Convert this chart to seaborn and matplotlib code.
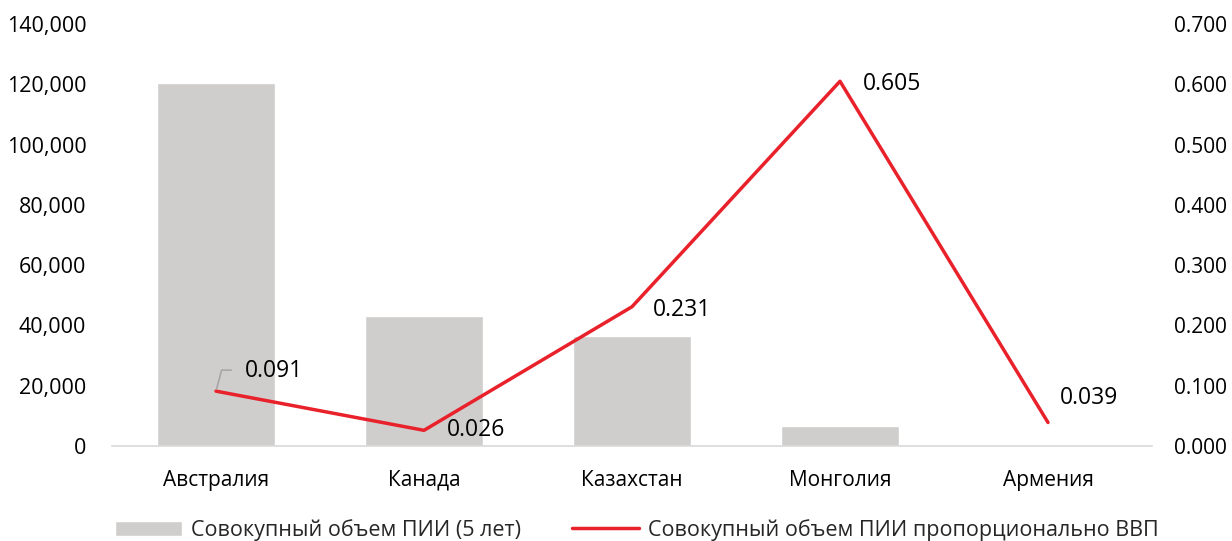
import matplotlib
matplotlib.use("Agg")
import matplotlib.pyplot as plt
import seaborn as sns
import pandas as pd
from matplotlib.ticker import FuncFormatter

categories = ["Австралия", "Канада", "Казахстан", "Монголия", "Армения"]
fdi_total = [120500, 43100, 36500, 6600, 0]
fdi_gdp = [0.091, 0.026, 0.231, 0.605, 0.039]
bar_label = "Совокупный объем ПИИ (5 лет)"
line_label = "Совокупный объем ПИИ пропорционально ВВП"

sns.set_theme(style="white")
plt.rcParams["font.family"] = ["Open Sans", "DejaVu Sans"]

df = pd.DataFrame({"cat": categories, "total": fdi_total, "ratio": fdi_gdp})

fig = plt.figure(figsize=(12.32, 5.41), dpi=100)
ax = fig.add_axes([112 / 1232, 95 / 541, 1040 / 1232, 422 / 541])

sns.barplot(data=df, x="cat", y="total", color="#d0cecd", saturation=1,
            width=0.565, ax=ax, label=bar_label)
ax.set_ylim(0, 140000)
ax.set_yticks(range(0, 140001, 20000))
ax.yaxis.set_major_formatter(FuncFormatter(lambda v, p: f"{int(v):,}"))
ax.set_xlabel("")
ax.set_ylabel("")
ax.set_xlim(-0.5, 4.5)
for s in ["top", "right", "left"]:
    ax.spines[s].set_visible(False)
ax.spines["bottom"].set_color("#d9d9d9")
ax.spines["bottom"].set_linewidth(1.2)
ax.tick_params(axis="y", length=0, pad=18.5, labelsize=15.5, labelcolor="black")
ax.tick_params(axis="x", length=0, pad=17, labelsize=15, labelcolor="black")

ax2 = ax.twinx()
sns.lineplot(data=df, x="cat", y="ratio", color="#e8212a", linewidth=2.5,
             sort=False, ax=ax2, label=line_label)
ax2.set_ylim(0, 0.7)
ax2.set_yticks([i / 10 for i in range(0, 8)])
ax2.yaxis.set_major_formatter(FuncFormatter(lambda v, p: f"{v:.3f}"))
ax2.set_ylabel("")
ax2.set_xlim(-0.5, 4.5)
for s in ["top", "right", "left", "bottom"]:
    ax2.spines[s].set_visible(False)
ax2.tick_params(axis="y", length=0, pad=16, labelsize=15, labelcolor="black")
if ax2.get_legend():
    ax2.get_legend().remove()
if ax.get_legend():
    ax.get_legend().remove()

offsets = [(29, 20), (23, 0), (21, -3), (23, -3), (12, 24)]
for i, (v, off) in enumerate(zip(fdi_gdp, offsets)):
    ax2.annotate(f"{v:.3f}", xy=(i, v), xytext=off, textcoords="offset pixels",
                 ha="left", va="center", fontsize=16.5, color="black")
# leader line for first label
ax2.annotate("", xy=(0, fdi_gdp[0]), xytext=(18, 21), textcoords="offset pixels",
             arrowprops=dict(arrowstyle="-", color="#a6a6a6", lw=1.2,
                             connectionstyle="angle,angleA=0,angleB=75,rad=0"))

h1, l1 = ax.get_legend_handles_labels()
h2, l2 = ax2.get_legend_handles_labels()
fig.legend(h1 + h2, l1 + l2, loc="center", bbox_to_anchor=(0.517, 1 - 530 / 541),
           ncol=2, frameon=False, fontsize=15.5, handlelength=3.1,
           handleheight=0.7, columnspacing=2.4, handletextpad=0.4)

fig.savefig("out.png", dpi=100)
